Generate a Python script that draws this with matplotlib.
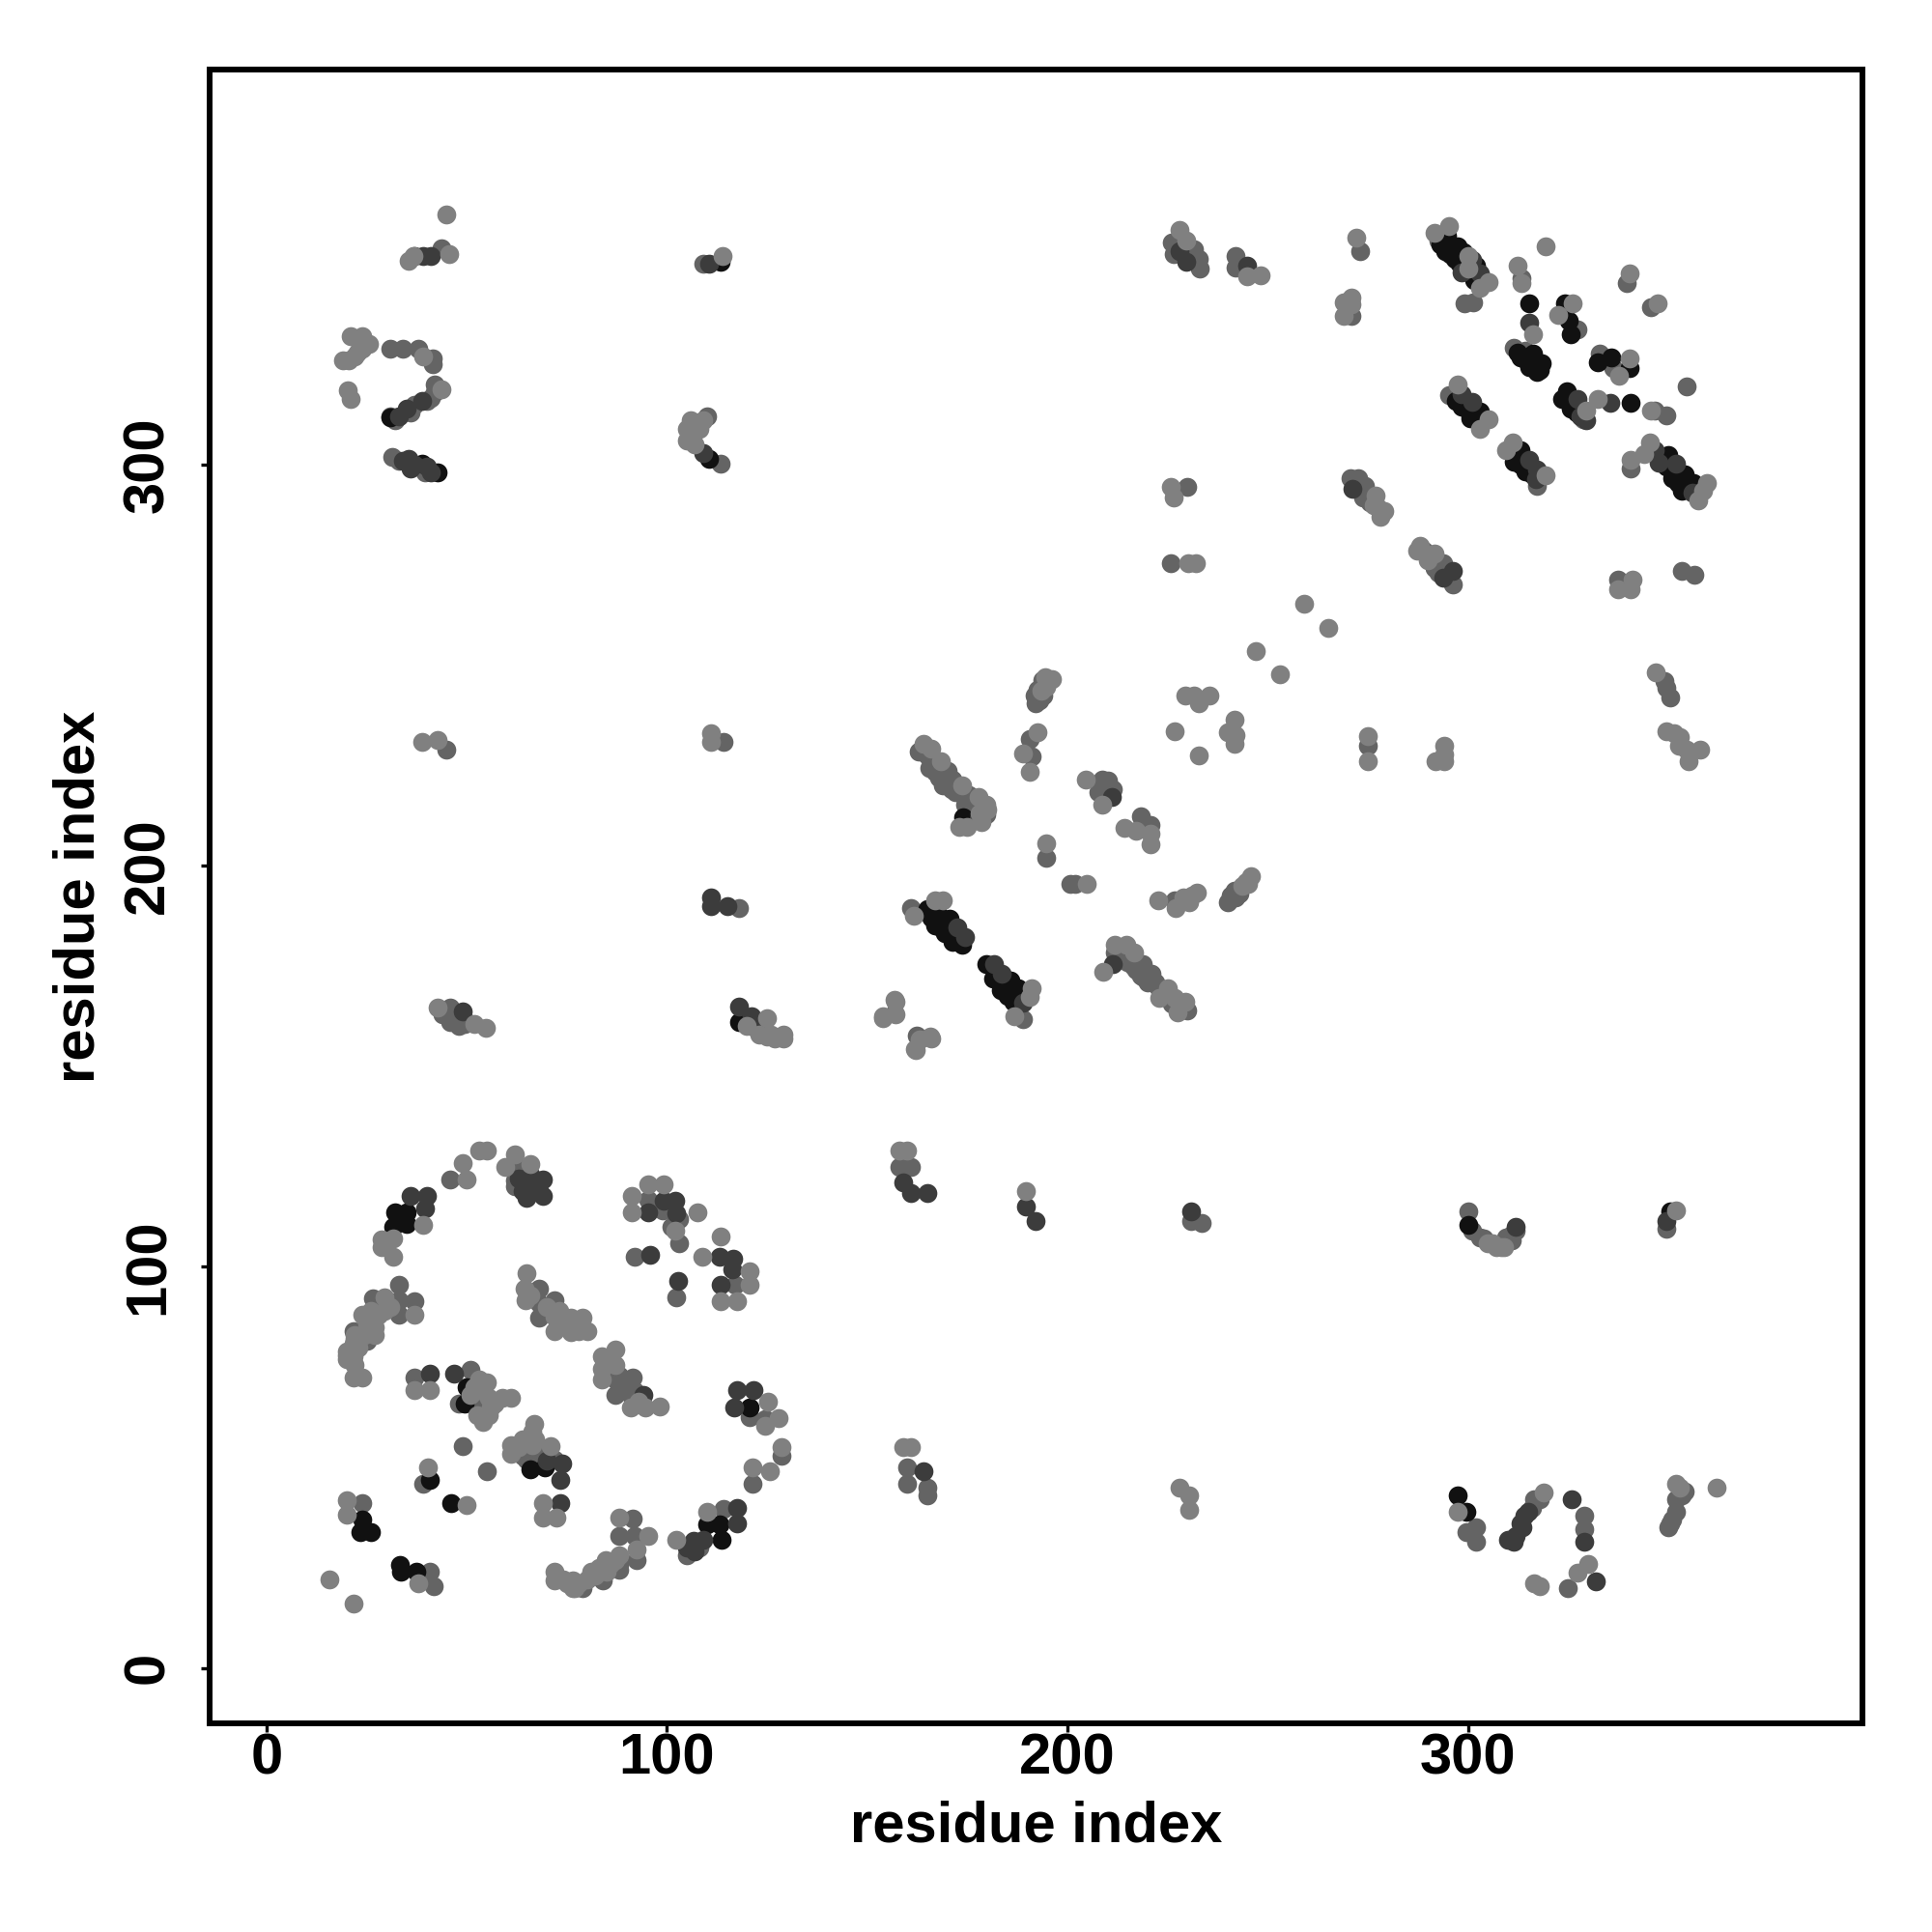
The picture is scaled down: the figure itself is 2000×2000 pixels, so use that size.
# contact map, residue index vs residue index
import matplotlib
matplotlib.use('Agg')
import matplotlib.pyplot as plt

plt.rcParams['font.family'] = ['Liberation Sans', 'DejaVu Sans']
plt.rcParams['font.weight'] = 'bold'

# points as (x, y), one list per grey level
black_pts = [
    (32,113.5),(35,113.5),(35,110.7),(31.7,110),(49.9,70),(49.5,66),(66,49.6),(69.4,50),(40.8,47),(46,41),
    (24,37),(26,34),(23.5,34),(33.4,25.7),(33.6,24),(37.4,24),(110,35.7),(113.2,35.7),(113.6,32),(120.6,65),
    (299.7,39),(297.5,43),(300,110.5),(118,161),(350.5,113.8),(38.8,300.3),(42.8,298),(30.8,311.7),(113.5,350.5),(110.5,301.5),
    (164.9,189.1),(167.7,187.9),(166.9,185.1),(170.5,186.7),(169.3,183.1),(173.7,180.3),(171.3,181),
    (179.7,175.5),(181.3,171.8),(185.7,171.4),(183.3,169),(187.7,169.4),(186.5,166.2),(174,212),
    (294.7,357),(297.4,354.5),(294.2,353.3),(296.8,351.3),(302,349.7),(301.6,346),(315.4,340.3),(324.1,340.3),(325.2,336),(325.7,332.5),
    (313,326.8),(316.3,327.6),(315.2,324.4),(318.4,325.2),(317.3,323.2),(332.5,325.6),(335.7,326.8),(340.4,324),
    (324.7,318.4),(323.6,316.4),(325.7,314),(340.6,315.4),(298.4,314.4),(303.1,313.2),(300.5,311.6),
    (311.5,300.7),(314.2,298.3),(313.1,303.5),(349.9,302.3),(350.9,296.7),(354,297.5),(353.5,293.5),(356.2,295.5),
    (166,187),(168,185),(170,184),(171,183),(173,182),(182,173.5),(184,171),(186,169),(185,167.5),(187.5,167.5),
    (293,355),(295.5,352.5),(298,350),(299,353),(302.5,347),(299.5,316),(300,313.5),(302,312.5),(297,316),
    (312,302),(313,300),(315,299.5),(316,297.5),(348,302),(349.5,299.5),(351,298.5),(352.5,295.5),(354.5,295),
    (312.5,328),(314.5,326),(316.5,325),(318,323.5),(326,315),(327,313),
]
dark_pts = [
    (36,117.6),(40,117.6),(39.5,114.6),(65.5,121.5),(69,121.7),(65,117.2),(69,117.6),(95.4,113.5),(99.2,116.6),(102,116.6),
    (102.4,113.3),(95.9,102.9),(102.8,96.4),(113.2,102.5),(116.5,102),(113.5,95.5),(116.2,99.4),(26.5,87.3),(40.8,73.4),(46.9,73.4),
    (70,51.7),(73.8,51),(73.3,47),(73.3,41),(109,32),(106.7,31.8),(117.5,40),(117.5,36),(117.5,69.2),(121.7,69.2),(116.7,65),
    (94,68),(164,49),(311.4,31.4),(313.5,35),(315,39),(326,42),(329,31.4),(332,21.5),(159,121),(161,118.5),(165,118.5),
    (189.5,115),(192,111.4),(230.8,113.8),(312,110),(349.5,111.4),(49,163.7),(118,165),(121,162.5),(122,159.7),
    (111,192),(111,190),(115,190),(39,352),(33,312),(35,314),(38.8,316),(35.4,301.5),(110.5,350),(109,303),
    (177.7,211.6),(172.5,184.7),(174.5,182.3),(181.7,175.5),(183.7,173),(189,165.8),(211.4,175.5),(211,217.2),
    (228,353.3),(229.6,350.5),(244.8,349.7),(303,347.7),(315.4,335.5),(327.3,316.4),(335.5,315.4),(301,315.6),(298.4,317.6),
    (315.2,301.1),(317.3,298.7),(346.7,303.5),(352,300.3),(296.3,273.4),(293.7,271.8),(271.1,293.9),
    (301,351),(304,346),(298.5,348),(317,296.5),(356,293),(347.5,300.5),(328,312),(329.5,311),
    (37,352),(41,352),(34,301),(37,300),(36,299),(40,299.5),(41,298),(64,119),(67,119),(63,122),(66,123),(68,119),
    (310,32),(312,33),(313,36),(314,38),(105,30),(107,29),
]
mid_pts = [
    (45.8,121.7),(62.5,124.6),(62,121.5),(62,120),(95.4,116.8),(92,102.6),(102.4,92.5),(117,95.5),(33,95.5),(36.9,91.4),
    (33,91.6),(33,88),(26.5,92.2),(21.7,84),(25,81.6),(36.9,72.4),(51,74.3),(48,66),(52.5,67),(66.4,52.6),
    (49,55.2),(55,49),(39,46),(24,41),(40.8,24),(41.7,20.5),(79,20),(84,21.8),(88,24.5),(91.5,37.3),(88,33),(92,33),(92.4,27),(88,25.7),
    (106,29.6),(114,39.6),(121.4,46),(128.5,53),(120.6,62.6),(124.5,62),(68,94.6),(68,91),(72,91.6),(68,87.3),
    (87.2,72),(91.4,72.4),(87.2,68),(91,68),(160,50),(160,46),(165,45),(165,43),(302,35),(299.7,34),(302,31.4),(316.6,42),
    (329,38),(329,34.5),(325,20),(350.5,36),(352,39),(353.5,43),(158,125),(161,125),(230.8,111.4),(233.5,111),(300,113.8),(303,107.4),
    (309.5,107.4),(349.5,109.5),(45.8,164.6),(45.8,161),(49.5,160.6),(118,189.5),(45,229),(114,231),
    (43.7,354),(30.8,329),(34,329),(37.8,329),(41.5,326.4),(41.5,325),(41,316.6),(31.4,302),(33,301),(39.7,298),
    (109,350),(110,312),(113.5,300.3),(162.8,228.5),(166,226.5),(166.9,223.3),(170,223.7),(171.3,221.6),(168.9,220),(172,218.4),
    (175.3,217.6),(174.5,215.2),(179.7,212.8),(177,212.4),(193.8,246.2),(191.8,242.5),(193,241.3),(190.6,231.7),(191,227.3),
    (208.6,221.5),(210.2,221.3),(207.8,218.4),(211.4,219.2),(218.3,212.4),(220.7,210.2),(194.7,202),(200.8,195.5),(201.8,195.5),
    (226.7,191.4),(240.8,192.7),(241.6,193.9),(160.8,189.5),(188.8,161.8),(156.8,163.3),(162.4,157.6),(211.8,178.3),(216.3,175),
    (218.7,175.5),(218.3,172.7),(221,173),(222.7,169.8),(229.5,165),(226,355.4),(231.7,353.7),(232.8,351.3),(233,349),(226.5,352.5),
    (242,351.9),(242,349.2),(273,353.3),(271,337),(292.6,355.8),(299.2,340.3),(301.2,340.5),(313.3,346.5),(311.5,329.2),(314.2,328.4),
    (333,327.6),(336.2,324),(339.7,345.3),(345.7,339.3),(354.6,319.4),(327.3,333.7),(328.9,311.2),(346.7,313.4),(349.6,312.4),
    (295.3,317.4),(317.3,294.7),(340.6,299.1),(270.6,296.7),(272.7,296.7),(274.2,294.7),(273.7,291.9),(293.7,275.4),(291.6,274.2),(296.3,270.2),
    (229.8,294.5),(225.9,275.4),(337.5,271.4),(353.5,273.4),(356.5,272.5),(349,246),(349.5,244.3),(350.5,242),(275,230),
    (163.5,229),(165,227.5),(167,225.5),(169,224),(170,222),(173,219.5),(174.5,218),(176,216),(178,214),(176,214.5),(165.5,224.5),(168,222),(171,219),
    (213,177),(215,176),(217,174),(219,172),(220,171),(222,171),(224,168),(226,165.5),(228,164.5),(230,164),
    (192.5,244),(194,242.5),(195,245.5),(192,240.5),(271.5,295.5),(273,293.5),(275,292),(275.5,290.5),(289,278.5),(291,276),(292.5,273),(294.5,273.5),(295,272),
    (31,312),(32,311),(36,313),(37,315),(40,316),(42,318),(42,320),(44,163),(46,163),(47,162.5),(50,161),(48,160),
    (243,193),(243,194),(242,192),(240,191),(304,107),(311,108),(312,109),(301,109),(311,106.5),(316,40),(318,42),
    (351,37),(350,35),(352,42),(354,44),(105,28),(108,30),(99,114),(101,114),(103,112),(101,110),(103,106),
    (85,76),(86,74),(88,73),(89,71),(90,70),(92,69),(62,54),(64,53),(65,52),(68,52),(70,54),(72,52),
]
light_pts = [
    (39,110.5),(28.7,106.8),(31.7,107),(31.7,102.5),(28.7,105),(50,121.7),(49,125.9),(53,128.9),(55,128.9),(62,128),(59.6,125),(66,125.7),
    (91.3,117.6),(91.3,113.7),(95.4,120.7),(99.2,120.7),(102,109),(107.6,113.7),(113.5,107.6),(108.9,102.5),(120.6,99),(120.6,95.5),(113.5,91.4),(117.5,91.4),
    (36.9,88),(29.5,92.5),(29.5,89),(24,88),(27,85),(24.3,83),(21.7,80.8),(20,79),(20,76.9),(21.7,77.7),(21.7,72.5),(24,72.5),
    (36.9,69.2),(40.8,69.2),(55,71.2),(55.6,67.3),(52.5,63),(55.6,63),(54,61.3),(59,67.3),(61,67.3),
    (66.8,60.8),(66.4,59),(61,55.6),(63,55),(61,53.5),(66.4,55.6),(71,55.2),(40.4,50),(50,40.7),(69,41),(69,37.4),(72.5,37.4),
    (20,41.8),(20,38.3),(37.8,21),(15.7,22),(21.7,16),(72,24),(72,21.8),(76.4,21.8),(76.4,20),(81,24),(84.6,27),(88,37.4),(95.4,33),(88,28),(92.4,29.6),
    (102.4,32),(110,39),(121.4,50),(125.8,49),(128.5,55),(125.3,66.5),(124.5,60.4),(127.8,62.3),
    (65,98.5),(64.4,94.6),(64.7,91.6),(72,87.7),(72,84),(76,87.3),(79,87.3),(76,83.8),(78,84),
    (83.7,77.7),(87.2,79.5),(83.7,74.7),(87.2,75.6),(83.7,72),(91,65),(94.6,65),(98.3,65.3),
    (159,55),(161,55),(228,45),(230.5,43),(230.5,39.4),(297.5,39),(318.8,43.7),(316.6,21),(318,20.3),(330,26),(327.4,23.7),(352,46),(362,45),
    (158,129),(160,129),(189.5,118.8),(306,106),(308.3,105),(352,114),(42.8,164.6),(54.8,159.7),(52,160.6),(125,162),(125,157.5),(129,158),
    (154,162),(157,166),(157,163),(166,157),(163,156.6),(162,154),(38.8,231),(42.8,231.4),(111,233),(111,231),
    (45,362.4),(35.4,350.8),(36.6,352),(45.5,352.6),(21,332),(22.8,328),(19,326),(20.6,326),(25.5,330),(20.3,318.5),(21,316.3),(39,327),(43.7,318.8),
    (113.8,352),(106,307.7),(107.4,310),(106,311),
    (164,230.5),(166,229.3),(168.5,226),(173.7,220),(177.7,217.2),(179.7,215.2),(172.9,209.8),(174.9,209.6),
    (196.2,246.5),(193.4,243.7),(194.6,244.5),(192.6,233.3),(188.8,228),(190.7,223.5),(204.6,221.5),(208.6,215.2),
    (214.3,209.4),(217,208.8),(220.7,208),(220.8,205.4),(194.7,205.6),(204.8,195.5),(222.7,191.4),(227.1,189.5),(230.3,191),(232.3,193.4),(243.6,195.1),(245.8,197.4),
    (161.6,187.5),(166.9,191.5),(168.9,191.5),(191,169.4),(190.6,167.4),(186.7,162.6),(156.8,166.6),(153.8,162.4),(165.7,157.4),(161.8,154.4),
    (209,173.5),(211.8,180.3),(214.7,180.3),(216.7,178.3),(225,169.4),(223,167),(226.7,167),(229.5,166.2),(227.5,163.4),
    (232.7,227.4),(226.7,233.5),(229.5,242.5),(231.5,242.5),(232.7,240.5),(235.5,242.4),(241.6,236.5),(240,233.3),(242,232.5),(241.8,230.3),
    (228,358.6),(229.6,355.8),(244.8,346.9),(248.2,347.3),(272,356.7),(271,341.7),(269,340.5),(271,340),(269,337),
    (295.3,359.4),(291.6,357.8),(300,352),(300,349),(305.2,345.5),(303,344),(312.3,349.6),(313.3,345.2),(319.4,354.5),(316.3,332.5),(326.2,340.3),(322.6,337.3),
    (340.4,326.4),(337.6,322.2),(340.4,347.6),(347.3,340.3),(329.4,313.6),(332.5,316.4),(345.7,313.4),
    (297.4,320),(305.2,311.4),(303.1,308.8),(311.2,305.6),(309.4,303.5),(319.4,297.4),(345.5,305.6),(344.1,302.7),(359.6,295.5),(358.6,293.5),(357.5,291),(340.6,301.1),
    (277,292.3),(276.4,289.9),(279,288.4),(278.1,287),(288.1,279.8),(287.4,278.5),(291.6,277.8),(290,276.2),
    (225.9,294.5),(226.5,291.9),(230.1,275.4),(232,275.4),(341,271.4),(337.5,269),(340.6,269),
    (259,265.4),(265,259.4),(247,253.5),(253,247.7),(347,248.3),
    (349.5,233.5),(351.4,233),(353,232),(352.6,230),(354.5,229),(355,226),(358,229),(275,232.3),(275,226),(294,230),(294,227.7),(292,226),(294,226),
    (178,213),(180,214),(178.5,211),(194.5,247),(277.5,289.5),(22,82),(23,80),(21,79),(20,78),(22,75.5),(25,86),(28,88),(26,89),(22,83),(27,83),(31,90),
    (22,327),(24,329),(23,331),(24,332),(120,160),(123,158),(126,158),(127,157),(129,157),(105,309),(108,309),(109,311),(105,306),(107,305),
    (244.5,196),(245,195.5),(229,192),(231,192.5),(305,106),(307,105),(309,105),(353,45),
    (74,22),(75,21),(77,20),(78,21),(80,22),(82,23),(83,25),(85,24),(86,26),(87,27),
    (66,93),(70,90),(73,89),(74,86),(75,85),(77,85),(80,84),(93,66.5),(51,68),(52,70),(53,72),(54,69),(56,65),(57,66),(64,57),(67,57),
]
ticks = [0, 100, 200, 300]

# mid greys go under the dark runs, the lightest dots stay on top
layers = [(mid_pts, '#646464'), (black_pts, '#111111'), (dark_pts, '#3c3c3c'), (light_pts, '#808080')]

fig = plt.figure(figsize=(20, 20), dpi=100)
ax = fig.add_axes([217/2000, 1 - 1784/2000, 1711/2000, 1712/2000])

for pts, col in layers:
    ax.scatter([p[0] for p in pts], [p[1] for p in pts], s=200, c=col, linewidths=0)

ax.set_xlim(-14.2, 398.5)
ax.set_ylim(-13.8, 398.5)
ax.set_xticks(ticks)
ax.set_yticks(ticks)
ax.tick_params(length=6.7, width=2.4, labelsize=43)
ax.tick_params(axis='x', pad=0)
ax.tick_params(axis='y', pad=19)
for lab in ax.get_yticklabels():
    lab.set_rotation(90)
    lab.set_va('center')
for sp in ax.spines.values():
    sp.set_linewidth(4.3)

ax.set_xlabel('residue index', fontsize=43, fontweight='bold', labelpad=11)
ax.set_ylabel('residue index', fontsize=43, fontweight='bold', labelpad=12)

fig.savefig('out.png', dpi=100)
